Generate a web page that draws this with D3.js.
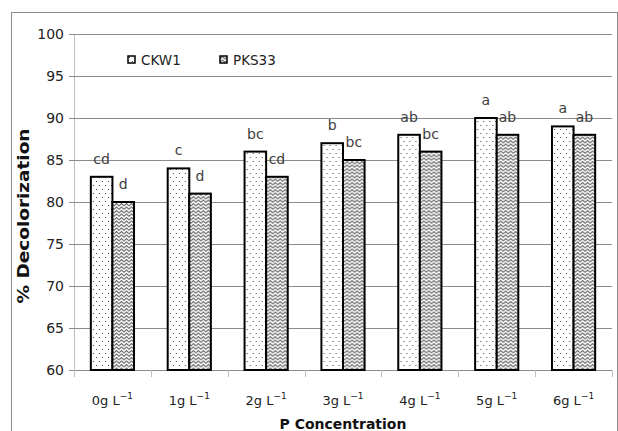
<!DOCTYPE html>
<html>
<head>
<meta charset="utf-8">
<script src="https://cdn.jsdelivr.net/npm/d3@7"></script>
<style>
  body { margin: 0; background: #fff; }
  svg text { font-family: "DejaVu Sans", sans-serif; }
</style>
</head>
<body>
<div id="chart"></div>
<script>
// data
const categories = ["0", "1", "2", "3", "4", "5", "6"];
const seriesNames = ["CKW1", "PKS33"];
const ckw1 = [83, 84, 86, 87, 88, 90, 89];
const pks33 = [80, 81, 83, 85, 86, 88, 88];
const ckw1Letters = ["cd", "c", "bc", "b", "ab", "a", "a"];
const pks33Letters = ["d", "d", "cd", "bc", "bc", "ab", "ab"];
const yTicks = [60, 65, 70, 75, 80, 85, 90, 95, 100];

const width = 618, height = 431;
const margin = { top: 34, right: 6, bottom: 61, left: 74 };

const svg = d3.select("#chart").append("svg")
    .attr("width", width)
    .attr("height", height);

// fill patterns
const defs = svg.append("defs");
const dots = defs.append("pattern")
    .attr("id", "dots")
    .attr("patternUnits", "userSpaceOnUse")
    .attr("width", 6).attr("height", 8);
dots.append("rect").attr("width", 6).attr("height", 8).attr("fill", "#fff");
dots.append("rect").attr("x", 1).attr("y", 1).attr("width", 1).attr("height", 1).attr("fill", "#444");
dots.append("rect").attr("x", 4).attr("y", 5).attr("width", 1).attr("height", 1).attr("fill", "#444");

const zig = defs.append("pattern")
    .attr("id", "zig")
    .attr("patternUnits", "userSpaceOnUse")
    .attr("width", 5).attr("height", 3.5);
zig.append("rect").attr("width", 5).attr("height", 3.5).attr("fill", "#fff");
zig.append("path")
    .attr("d", "M0,3 L2.5,0.5 L5,3")
    .attr("fill", "none")
    .attr("stroke", "#555")
    .attr("stroke-width", 1);

const fills = ["url(#dots)", "url(#zig)"];

// outer frame
svg.append("rect")
    .attr("x", 11.5).attr("y", 12.5)
    .attr("width", 606).attr("height", 430)
    .attr("fill", "none")
    .attr("stroke", "#8c8c8c");

const x = d3.scaleBand()
    .domain(categories)
    .range([margin.left, width - margin.right]);
const x1 = d3.scaleBand()
    .domain(seriesNames)
    .range([0, x.bandwidth()])
    .paddingOuter(0.78)
    .paddingInner(0);
const y = d3.scaleLinear()
    .domain([60, 100])
    .range([height - margin.bottom, margin.top]);

// gridlines + y ticks
const yAxis = svg.append("g")
    .attr("transform", "translate(" + margin.left + ",0)")
    .call(d3.axisLeft(y).tickValues(yTicks).tickSize(5).tickPadding(5).tickFormat(d3.format("d")));
yAxis.select(".domain").attr("stroke", "#bfbfbf").attr("d", "M0.5," + margin.top + "V" + (height - margin.bottom));
yAxis.selectAll(".tick line").attr("stroke", "#8c8c8c");
yAxis.selectAll(".tick text").attr("fill", "#222").attr("font-size", 14)
    .attr("font-family", "DejaVu Sans");

svg.append("g")
    .selectAll("line")
    .data(yTicks.filter((d) => d > 60))
    .enter().append("line")
    .attr("x1", margin.left).attr("x2", width - margin.right)
    .attr("y1", (d) => Math.round(y(d)) + 0.5)
    .attr("y2", (d) => Math.round(y(d)) + 0.5)
    .attr("stroke", "#8c8c8c");

// x axis with ticks on category boundaries
const xBase = height - margin.bottom;
svg.append("line")
    .attr("x1", margin.left).attr("x2", width - margin.right)
    .attr("y1", xBase + 0.5).attr("y2", xBase + 0.5)
    .attr("stroke", "#8c8c8c");
const bounds = categories.map((c) => x(c)).concat([x.range()[1]]);
svg.append("g")
    .selectAll("line")
    .data(bounds)
    .enter().append("line")
    .attr("x1", (d) => Math.round(d) + 0.5).attr("x2", (d) => Math.round(d) + 0.5)
    .attr("y1", xBase).attr("y2", xBase + 7)
    .attr("stroke", "#bfbfbf");

const xLabels = svg.append("g")
    .selectAll("text")
    .data(categories)
    .enter().append("text")
    .attr("x", (d) => x(d) + x.bandwidth() / 2)
    .attr("y", xBase + 35)
    .attr("text-anchor", "middle")
    .attr("font-size", 13)
    .attr("fill", "#222");
xLabels.append("tspan").text((d) => d + "g L");
xLabels.append("tspan").attr("dy", -6).attr("font-size", 9).text("\u22121");

// bars
const rows = categories.map((c, i) => ({ cat: c, values: [ckw1[i], pks33[i]], letters: [ckw1Letters[i], pks33Letters[i]] }));
const groups = svg.append("g")
    .selectAll("g")
    .data(rows)
    .enter().append("g")
    .attr("transform", (d) => "translate(" + x(d.cat) + ",0)");

groups.selectAll("rect")
    .data((d) => d.values.map((v, j) => ({ s: seriesNames[j], v: v, j: j })))
    .enter().append("rect")
    .attr("x", (d) => x1(d.s))
    .attr("width", x1.bandwidth())
    .attr("y", (d) => y(d.v))
    .attr("height", (d) => y(60) - y(d.v))
    .attr("fill", (d) => fills[d.j])
    .attr("stroke", "#000")
    .attr("stroke-width", 2);

groups.selectAll("text")
    .data((d) => d.values.map((v, j) => ({ s: seriesNames[j], v: v, t: d.letters[j] })))
    .enter().append("text")
    .attr("x", (d) => x1(d.s) + x1.bandwidth() / 2)
    .attr("y", (d) => y(d.v) - 13)
    .attr("text-anchor", "middle")
    .attr("font-size", 14)
    .attr("fill", "#404040")
    .text((d) => d.t);

// legend
const legend = svg.append("g")
    .selectAll("g")
    .data(seriesNames)
    .enter().append("g")
    .attr("transform", (d, i) => "translate(" + (128 + i * 92) + ",56)");
legend.append("rect")
    .attr("width", 7).attr("height", 7)
    .attr("fill", (d, i) => fills[i])
    .attr("stroke", "#000")
    .attr("stroke-width", 1.5);
legend.append("text")
    .attr("x", 13).attr("y", 9)
    .attr("font-size", 13.5)
    .attr("fill", "#222")
    .text((d) => d);

// axis titles
svg.append("text")
    .attr("transform", "translate(29," + ((margin.top + xBase) / 2 + 14) + ") rotate(-90)")
    .attr("text-anchor", "middle")
    .attr("font-family", "Liberation Sans")
    .attr("font-size", 15)
    .attr("font-weight", "bold")
    .attr("textLength", 175)
    .attr("lengthAdjust", "spacingAndGlyphs")
    .attr("fill", "#111")
    .text("% Decolorization");
svg.append("text")
    .attr("x", (margin.left + width - margin.right) / 2)
    .attr("y", 429)
    .attr("text-anchor", "middle")
    .attr("font-family", "Liberation Sans")
    .attr("font-size", 14)
    .attr("font-weight", "bold")
    .attr("fill", "#111")
    .text("P Concentration");
</script>
</body>
</html>
